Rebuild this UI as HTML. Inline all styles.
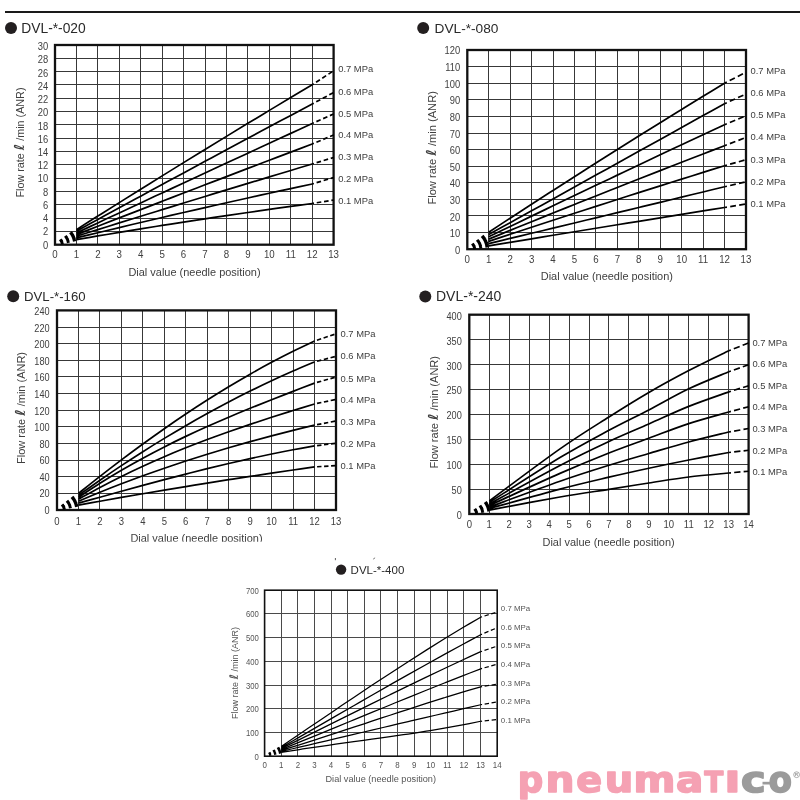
<!DOCTYPE html>
<html lang="en"><head><meta charset="utf-8"><title>DVL flow characteristics</title>
<style>html,body{margin:0;padding:0;background:#fff}body{width:800px;height:800px;overflow:hidden}svg{display:block;font-family:"Liberation Sans", "DejaVu Sans", sans-serif}</style>
</head><body>
<svg width="800" height="800" viewBox="0 0 800 800">
<rect width="800" height="800" fill="#fff"/>
<rect x="5" y="11" width="795" height="2" fill="#1a1a1a"/>
<g>
<path d="M76.50 45.00V244.70M97.50 45.00V244.70M119.50 45.00V244.70M140.50 45.00V244.70M162.50 45.00V244.70M183.50 45.00V244.70M205.50 45.00V244.70M226.50 45.00V244.70M247.50 45.00V244.70M269.50 45.00V244.70M290.50 45.00V244.70M312.50 45.00V244.70M55.00 58.50H333.60M55.00 71.50H333.60M55.00 84.50H333.60M55.00 98.50H333.60M55.00 111.50H333.60M55.00 124.50H333.60M55.00 138.50H333.60M55.00 151.50H333.60M55.00 164.50H333.60M55.00 178.50H333.60M55.00 191.50H333.60M55.00 204.50H333.60M55.00 218.50H333.60M55.00 231.50H333.60" stroke="#383838" stroke-width="1.0" fill="none"/>
<rect x="55.00" y="45.00" width="278.60" height="199.70" fill="none" stroke="#111" stroke-width="2.3"/>
<circle cx="11.00" cy="28.00" r="6.00" fill="#231f20"/>
<text x="21.30" y="32.80" font-size="13.80" fill="#2a2a2a">DVL-*-020</text>
<g font-size="10.40" fill="#404040" text-anchor="end">
<text transform="translate(48.20 50.24) scale(0.900 1)">30</text>
<text transform="translate(48.20 63.46) scale(0.900 1)">28</text>
<text transform="translate(48.20 76.68) scale(0.900 1)">26</text>
<text transform="translate(48.20 89.90) scale(0.900 1)">24</text>
<text transform="translate(48.20 103.12) scale(0.900 1)">22</text>
<text transform="translate(48.20 116.34) scale(0.900 1)">20</text>
<text transform="translate(48.20 129.56) scale(0.900 1)">18</text>
<text transform="translate(48.20 142.78) scale(0.900 1)">16</text>
<text transform="translate(48.20 156.00) scale(0.900 1)">14</text>
<text transform="translate(48.20 169.22) scale(0.900 1)">12</text>
<text transform="translate(48.20 182.44) scale(0.900 1)">10</text>
<text transform="translate(48.20 195.66) scale(0.900 1)">8</text>
<text transform="translate(48.20 208.88) scale(0.900 1)">6</text>
<text transform="translate(48.20 222.10) scale(0.900 1)">4</text>
<text transform="translate(48.20 235.32) scale(0.900 1)">2</text>
<text transform="translate(48.20 248.54) scale(0.900 1)">0</text>
</g>
<g font-size="10.80" fill="#404040" text-anchor="middle">
<text transform="translate(55.00 257.90) scale(0.900 1)">0</text>
<text transform="translate(76.43 257.90) scale(0.900 1)">1</text>
<text transform="translate(97.86 257.90) scale(0.900 1)">2</text>
<text transform="translate(119.29 257.90) scale(0.900 1)">3</text>
<text transform="translate(140.72 257.90) scale(0.900 1)">4</text>
<text transform="translate(162.15 257.90) scale(0.900 1)">5</text>
<text transform="translate(183.58 257.90) scale(0.900 1)">6</text>
<text transform="translate(205.02 257.90) scale(0.900 1)">7</text>
<text transform="translate(226.45 257.90) scale(0.900 1)">8</text>
<text transform="translate(247.88 257.90) scale(0.900 1)">9</text>
<text transform="translate(269.31 257.90) scale(0.900 1)">10</text>
<text transform="translate(290.74 257.90) scale(0.900 1)">11</text>
<text transform="translate(312.17 257.90) scale(0.900 1)">12</text>
<text transform="translate(333.60 257.90) scale(0.900 1)">13</text>
</g>
<text x="128.40" y="276.00" font-size="11.00" fill="#404040" textLength="132.20" lengthAdjust="spacingAndGlyphs">Dial value (needle position)</text>
<text transform="translate(23.50 197.50) rotate(-90)" font-size="11.00" fill="#404040" textLength="110.00" lengthAdjust="spacingAndGlyphs">Flow rate <tspan font-family="'DejaVu Sans', sans-serif" font-weight="bold" font-style="italic" font-size="13.75">ℓ</tspan> /min (ANR)</text>
<g font-size="9.40" fill="#404040">
<text x="338.20" y="72.38">0.7 MPa</text>
<text x="338.20" y="94.58">0.6 MPa</text>
<text x="338.20" y="117.08">0.5 MPa</text>
<text x="338.20" y="138.08">0.4 MPa</text>
<text x="338.20" y="160.38">0.3 MPa</text>
<text x="338.20" y="181.88">0.2 MPa</text>
<text x="338.20" y="204.38">0.1 MPa</text>
</g>
<path d="M76.40 229.61 C79.97 227.35 90.69 220.57 97.84 216.06 C104.98 211.56 112.13 207.07 119.27 202.60 C126.42 198.12 133.56 193.65 140.71 189.20 C147.85 184.75 155.00 180.31 162.15 175.88 C169.29 171.45 176.44 167.04 183.58 162.63 C190.73 158.23 197.87 153.84 205.02 149.46 C212.16 145.08 219.31 140.72 226.45 136.36 C233.60 132.01 240.75 127.66 247.89 123.33 C255.04 119.00 262.18 114.69 269.33 110.38 C276.47 106.08 283.62 101.78 290.76 97.50 C297.91 93.22 308.63 86.83 312.20 84.70 M76.40 231.27 C79.97 229.31 90.69 223.43 97.84 219.52 C104.98 215.61 112.13 211.71 119.27 207.81 C126.42 203.91 133.56 200.02 140.71 196.14 C147.85 192.25 155.00 188.37 162.15 184.50 C169.29 180.62 176.44 176.75 183.58 172.89 C190.73 169.03 197.87 165.17 205.02 161.32 C212.16 157.47 219.31 153.63 226.45 149.79 C233.60 145.95 240.75 142.12 247.89 138.29 C255.04 134.46 262.18 130.64 269.33 126.82 C276.47 123.01 283.62 119.20 290.76 115.39 C297.91 111.59 308.63 105.90 312.20 104.00 M76.40 232.94 C79.97 231.27 90.69 226.25 97.84 222.91 C104.98 219.57 112.13 216.23 119.27 212.90 C126.42 209.56 133.56 206.23 140.71 202.90 C147.85 199.57 155.00 196.24 162.15 192.92 C169.29 189.60 176.44 186.27 183.58 182.96 C190.73 179.64 197.87 176.32 205.02 173.01 C212.16 169.69 219.31 166.38 226.45 163.07 C233.60 159.76 240.75 156.46 247.89 153.16 C255.04 149.85 262.18 146.55 269.33 143.25 C276.47 139.96 283.62 136.66 290.76 133.37 C297.91 130.08 308.63 125.14 312.20 123.50 M76.40 234.61 C79.97 233.22 90.69 229.03 97.84 226.25 C104.98 223.46 112.13 220.69 119.27 217.91 C126.42 215.14 133.56 212.36 140.71 209.60 C147.85 206.83 155.00 204.07 162.15 201.31 C169.29 198.55 176.44 195.80 183.58 193.05 C190.73 190.30 197.87 187.55 205.02 184.81 C212.16 182.07 219.31 179.33 226.45 176.60 C233.60 173.86 240.75 171.13 247.89 168.41 C255.04 165.68 262.18 162.96 269.33 160.25 C276.47 157.53 283.62 154.82 290.76 152.11 C297.91 149.40 308.63 145.35 312.20 144.00 M76.40 236.28 C79.97 235.16 90.69 231.81 97.84 229.58 C104.98 227.35 112.13 225.12 119.27 222.90 C126.42 220.68 133.56 218.46 140.71 216.25 C147.85 214.04 155.00 211.83 162.15 209.63 C169.29 207.43 176.44 205.23 183.58 203.03 C190.73 200.84 197.87 198.65 205.02 196.46 C212.16 194.27 219.31 192.09 226.45 189.92 C233.60 187.74 240.75 185.57 247.89 183.40 C255.04 181.23 262.18 179.06 269.33 176.90 C276.47 174.74 283.62 172.59 290.76 170.44 C297.91 168.29 308.63 165.07 312.20 164.00 M76.40 237.94 C79.97 237.07 90.69 234.46 97.84 232.73 C104.98 231.00 112.13 229.29 119.27 227.58 C126.42 225.87 133.56 224.18 140.71 222.49 C147.85 220.80 155.00 219.13 162.15 217.46 C169.29 215.80 176.44 214.14 183.58 212.50 C190.73 210.85 197.87 209.22 205.02 207.59 C212.16 205.97 219.31 204.36 226.45 202.75 C233.60 201.15 240.75 199.55 247.89 197.97 C255.04 196.39 262.18 194.81 269.33 193.25 C276.47 191.69 283.62 190.14 290.76 188.59 C297.91 187.05 308.63 184.76 312.20 184.00 M76.40 239.61 C79.97 239.00 90.69 237.17 97.84 235.96 C104.98 234.76 112.13 233.57 119.27 232.39 C126.42 231.21 133.56 230.05 140.71 228.89 C147.85 227.74 155.00 226.59 162.15 225.46 C169.29 224.33 176.44 223.22 183.58 222.11 C190.73 221.00 197.87 219.91 205.02 218.83 C212.16 217.74 219.31 216.67 226.45 215.62 C233.60 214.56 240.75 213.51 247.89 212.48 C255.04 211.44 262.18 210.42 269.33 209.41 C276.47 208.40 283.62 207.40 290.76 206.42 C297.91 205.43 308.63 203.98 312.20 203.50 " stroke="#000" stroke-width="1.7" fill="none"/>
<path d="M312.20 84.70 L333.60 70.80 M312.20 104.00 L333.60 92.50 M312.20 123.50 L333.60 114.00 M312.20 144.00 L333.60 135.00 M312.20 164.00 L333.60 157.50 M312.20 184.00 L333.60 177.50 M312.20 203.50 L333.60 200.00 " stroke="#000" stroke-width="1.7" fill="none" stroke-dasharray="4.6 2.8" stroke-dashoffset="2.8"/>
<path d="M55.00 244.70 L76.40 229.61 M55.00 244.70 L76.40 231.27 M55.00 244.70 L76.40 232.94 M55.00 244.70 L76.40 234.61 M55.00 244.70 L76.40 236.28 M55.00 244.70 L76.40 237.94 M55.00 244.70 L76.40 239.61 " stroke="#000" stroke-width="2.55" fill="none" stroke-dasharray="0.00 5.80 3.00 3.20 3.00 3.20 3.40 100.00"/>
</g>
<g>
<path d="M488.50 50.00V249.20M510.50 50.00V249.20M531.50 50.00V249.20M553.50 50.00V249.20M574.50 50.00V249.20M595.50 50.00V249.20M617.50 50.00V249.20M638.50 50.00V249.20M660.50 50.00V249.20M681.50 50.00V249.20M703.50 50.00V249.20M724.50 50.00V249.20M467.30 66.50H746.00M467.30 83.50H746.00M467.30 99.50H746.00M467.30 116.50H746.00M467.30 133.50H746.00M467.30 149.50H746.00M467.30 166.50H746.00M467.30 182.50H746.00M467.30 199.50H746.00M467.30 215.50H746.00M467.30 232.50H746.00" stroke="#383838" stroke-width="1.0" fill="none"/>
<rect x="467.30" y="50.00" width="278.70" height="199.20" fill="none" stroke="#111" stroke-width="2.3"/>
<circle cx="423.20" cy="28.00" r="6.00" fill="#231f20"/>
<text x="434.50" y="32.80" font-size="13.70" fill="#2a2a2a">DVL-*-080</text>
<g font-size="10.40" fill="#404040" text-anchor="end">
<text transform="translate(460.20 54.44) scale(0.900 1)">120</text>
<text transform="translate(460.20 71.07) scale(0.900 1)">110</text>
<text transform="translate(460.20 87.69) scale(0.900 1)">100</text>
<text transform="translate(460.20 104.32) scale(0.900 1)">90</text>
<text transform="translate(460.20 120.94) scale(0.900 1)">80</text>
<text transform="translate(460.20 137.57) scale(0.900 1)">70</text>
<text transform="translate(460.20 154.19) scale(0.900 1)">60</text>
<text transform="translate(460.20 170.82) scale(0.900 1)">50</text>
<text transform="translate(460.20 187.44) scale(0.900 1)">40</text>
<text transform="translate(460.20 204.07) scale(0.900 1)">30</text>
<text transform="translate(460.20 220.69) scale(0.900 1)">20</text>
<text transform="translate(460.20 237.32) scale(0.900 1)">10</text>
<text transform="translate(460.20 253.94) scale(0.900 1)">0</text>
</g>
<g font-size="10.80" fill="#404040" text-anchor="middle">
<text transform="translate(467.30 262.80) scale(0.900 1)">0</text>
<text transform="translate(488.74 262.80) scale(0.900 1)">1</text>
<text transform="translate(510.18 262.80) scale(0.900 1)">2</text>
<text transform="translate(531.62 262.80) scale(0.900 1)">3</text>
<text transform="translate(553.05 262.80) scale(0.900 1)">4</text>
<text transform="translate(574.49 262.80) scale(0.900 1)">5</text>
<text transform="translate(595.93 262.80) scale(0.900 1)">6</text>
<text transform="translate(617.37 262.80) scale(0.900 1)">7</text>
<text transform="translate(638.81 262.80) scale(0.900 1)">8</text>
<text transform="translate(660.25 262.80) scale(0.900 1)">9</text>
<text transform="translate(681.68 262.80) scale(0.900 1)">10</text>
<text transform="translate(703.12 262.80) scale(0.900 1)">11</text>
<text transform="translate(724.56 262.80) scale(0.900 1)">12</text>
<text transform="translate(746.00 262.80) scale(0.900 1)">13</text>
</g>
<text x="540.75" y="280.00" font-size="11.00" fill="#404040" textLength="132.20" lengthAdjust="spacingAndGlyphs">Dial value (needle position)</text>
<text transform="translate(435.70 204.60) rotate(-90)" font-size="11.00" fill="#404040" textLength="113.50" lengthAdjust="spacingAndGlyphs">Flow rate <tspan font-family="'DejaVu Sans', sans-serif" font-weight="bold" font-style="italic" font-size="13.75">ℓ</tspan> /min (ANR)</text>
<g font-size="9.40" fill="#404040">
<text x="750.50" y="74.18">0.7 MPa</text>
<text x="750.50" y="95.88">0.6 MPa</text>
<text x="750.50" y="117.88">0.5 MPa</text>
<text x="750.50" y="139.78">0.4 MPa</text>
<text x="750.50" y="162.88">0.3 MPa</text>
<text x="750.50" y="184.88">0.2 MPa</text>
<text x="750.50" y="206.68">0.1 MPa</text>
</g>
<path d="M488.70 232.25 C492.27 229.91 502.99 222.88 510.14 218.21 C517.28 213.55 524.43 208.91 531.57 204.28 C538.72 199.65 545.86 195.04 553.01 190.44 C560.15 185.84 567.30 181.26 574.45 176.70 C581.59 172.13 588.74 167.58 595.88 163.05 C603.03 158.52 610.17 154.00 617.32 149.50 C624.46 145.00 631.61 140.52 638.75 136.05 C645.90 131.58 653.05 127.13 660.19 122.69 C667.34 118.26 674.48 113.84 681.63 109.43 C688.77 105.03 695.92 100.64 703.06 96.27 C710.21 91.90 720.93 85.38 724.50 83.20 M488.70 234.55 C492.27 232.57 502.99 226.63 510.14 222.67 C517.28 218.70 524.43 214.74 531.57 210.78 C538.72 206.82 545.86 202.85 553.01 198.89 C560.15 194.93 567.30 190.97 574.45 187.00 C581.59 183.04 588.74 179.07 595.88 175.11 C603.03 171.14 610.17 167.18 617.32 163.21 C624.46 159.25 631.61 155.28 638.75 151.32 C645.90 147.35 653.05 143.38 660.19 139.42 C667.34 135.45 674.48 131.48 681.63 127.52 C688.77 123.55 695.92 119.58 703.06 115.61 C710.21 111.64 720.93 105.69 724.50 103.71 M488.70 236.84 C492.27 235.12 502.99 229.92 510.14 226.47 C517.28 223.02 524.43 219.58 531.57 216.14 C538.72 212.70 545.86 209.26 553.01 205.83 C560.15 202.41 567.30 198.98 574.45 195.57 C581.59 192.15 588.74 188.74 595.88 185.33 C603.03 181.93 610.17 178.53 617.32 175.14 C624.46 171.74 631.61 168.35 638.75 164.97 C645.90 161.59 653.05 158.21 660.19 154.84 C667.34 151.47 674.48 148.11 681.63 144.75 C688.77 141.39 695.92 138.04 703.06 134.69 C710.21 131.34 720.93 126.34 724.50 124.67 M488.70 239.11 C492.27 237.65 502.99 233.28 510.14 230.38 C517.28 227.48 524.43 224.58 531.57 221.70 C538.72 218.81 545.86 215.93 553.01 213.06 C560.15 210.19 567.30 207.33 574.45 204.48 C581.59 201.62 588.74 198.78 595.88 195.94 C603.03 193.10 610.17 190.27 617.32 187.45 C624.46 184.62 631.61 181.81 638.75 179.00 C645.90 176.19 653.05 173.39 660.19 170.60 C667.34 167.81 674.48 165.03 681.63 162.25 C688.77 159.48 695.92 156.71 703.06 153.95 C710.21 151.19 720.93 147.07 724.50 145.69 M488.70 241.36 C492.27 240.18 502.99 236.64 510.14 234.29 C517.28 231.93 524.43 229.59 531.57 227.25 C538.72 224.91 545.86 222.58 553.01 220.25 C560.15 217.92 567.30 215.61 574.45 213.29 C581.59 210.98 588.74 208.68 595.88 206.38 C603.03 204.08 610.17 201.79 617.32 199.50 C624.46 197.22 631.61 194.94 638.75 192.67 C645.90 190.39 653.05 188.13 660.19 185.87 C667.34 183.61 674.48 181.36 681.63 179.11 C688.77 176.87 695.92 174.63 703.06 172.40 C710.21 170.17 720.93 166.84 724.50 165.73 M488.70 243.61 C492.27 242.75 502.99 240.17 510.14 238.45 C517.28 236.73 524.43 235.01 531.57 233.29 C538.72 231.57 545.86 229.85 553.01 228.13 C560.15 226.41 567.30 224.69 574.45 222.97 C581.59 221.25 588.74 219.53 595.88 217.80 C603.03 216.08 610.17 214.36 617.32 212.64 C624.46 210.92 631.61 209.19 638.75 207.47 C645.90 205.75 653.05 204.02 660.19 202.30 C667.34 200.58 674.48 198.85 681.63 197.13 C688.77 195.41 695.92 193.68 703.06 191.96 C710.21 190.23 720.93 187.64 724.50 186.78 M488.70 245.89 C492.27 245.30 502.99 243.52 510.14 242.34 C517.28 241.16 524.43 239.98 531.57 238.80 C538.72 237.62 545.86 236.44 553.01 235.27 C560.15 234.09 567.30 232.92 574.45 231.75 C581.59 230.58 588.74 229.42 595.88 228.25 C603.03 227.09 610.17 225.92 617.32 224.76 C624.46 223.60 631.61 222.44 638.75 221.29 C645.90 220.13 653.05 218.97 660.19 217.82 C667.34 216.67 674.48 215.52 681.63 214.37 C688.77 213.22 695.92 212.08 703.06 210.93 C710.21 209.79 720.93 208.08 724.50 207.51 " stroke="#000" stroke-width="1.7" fill="none"/>
<path d="M724.50 83.20 L746.00 72.25 M724.50 103.71 L746.00 94.00 M724.50 124.67 L746.00 115.75 M724.50 145.69 L746.00 137.50 M724.50 165.73 L746.00 159.75 M724.50 186.78 L746.00 181.80 M724.50 207.51 L746.00 204.00 " stroke="#000" stroke-width="1.7" fill="none" stroke-dasharray="5.8 3.3" stroke-dashoffset="3.3"/>
<path d="M467.30 249.20 L488.70 232.25 M467.30 249.20 L488.70 234.55 M467.30 249.20 L488.70 236.84 M467.30 249.20 L488.70 239.11 M467.30 249.20 L488.70 241.36 M467.30 249.20 L488.70 243.61 M467.30 249.20 L488.70 245.89 " stroke="#000" stroke-width="2.55" fill="none" stroke-dasharray="0.00 5.80 3.00 3.20 3.00 3.20 3.40 100.00"/>
</g>
<g>
<path d="M78.50 310.40V510.00M99.50 310.40V510.00M121.50 310.40V510.00M142.50 310.40V510.00M164.50 310.40V510.00M185.50 310.40V510.00M207.50 310.40V510.00M228.50 310.40V510.00M250.50 310.40V510.00M271.50 310.40V510.00M293.50 310.40V510.00M314.50 310.40V510.00M57.00 327.50H336.00M57.00 343.50H336.00M57.00 360.50H336.00M57.00 376.50H336.00M57.00 393.50H336.00M57.00 410.50H336.00M57.00 426.50H336.00M57.00 443.50H336.00M57.00 460.50H336.00M57.00 476.50H336.00M57.00 493.50H336.00" stroke="#383838" stroke-width="1.0" fill="none"/>
<rect x="57.00" y="310.40" width="279.00" height="199.60" fill="none" stroke="#111" stroke-width="2.3"/>
<circle cx="13.20" cy="296.30" r="6.00" fill="#231f20"/>
<text x="24.00" y="300.70" font-size="13.20" fill="#2a2a2a">DVL-*-160</text>
<g font-size="10.20" fill="#404040" text-anchor="end">
<text transform="translate(49.60 315.07) scale(0.900 1)">240</text>
<text transform="translate(49.60 331.65) scale(0.900 1)">220</text>
<text transform="translate(49.60 348.22) scale(0.900 1)">200</text>
<text transform="translate(49.60 364.80) scale(0.900 1)">180</text>
<text transform="translate(49.60 381.37) scale(0.900 1)">160</text>
<text transform="translate(49.60 397.95) scale(0.900 1)">140</text>
<text transform="translate(49.60 414.52) scale(0.900 1)">120</text>
<text transform="translate(49.60 431.10) scale(0.900 1)">100</text>
<text transform="translate(49.60 447.67) scale(0.900 1)">80</text>
<text transform="translate(49.60 464.25) scale(0.900 1)">60</text>
<text transform="translate(49.60 480.82) scale(0.900 1)">40</text>
<text transform="translate(49.60 497.40) scale(0.900 1)">20</text>
<text transform="translate(49.60 513.97) scale(0.900 1)">0</text>
</g>
<g font-size="10.60" fill="#404040" text-anchor="middle">
<text transform="translate(57.00 524.50) scale(0.900 1)">0</text>
<text transform="translate(78.46 524.50) scale(0.900 1)">1</text>
<text transform="translate(99.92 524.50) scale(0.900 1)">2</text>
<text transform="translate(121.38 524.50) scale(0.900 1)">3</text>
<text transform="translate(142.85 524.50) scale(0.900 1)">4</text>
<text transform="translate(164.31 524.50) scale(0.900 1)">5</text>
<text transform="translate(185.77 524.50) scale(0.900 1)">6</text>
<text transform="translate(207.23 524.50) scale(0.900 1)">7</text>
<text transform="translate(228.69 524.50) scale(0.900 1)">8</text>
<text transform="translate(250.15 524.50) scale(0.900 1)">9</text>
<text transform="translate(271.62 524.50) scale(0.900 1)">10</text>
<text transform="translate(293.08 524.50) scale(0.900 1)">11</text>
<text transform="translate(314.54 524.50) scale(0.900 1)">12</text>
<text transform="translate(336.00 524.50) scale(0.900 1)">13</text>
</g>
<clipPath id="xc"><rect x="0" y="0" width="800" height="541.70"/></clipPath>
<text x="130.40" y="541.50" font-size="11.00" fill="#404040" textLength="132.20" lengthAdjust="spacingAndGlyphs" clip-path="url(#xc)">Dial value (needle position)</text>
<text transform="translate(25.30 464.00) rotate(-90)" font-size="11.00" fill="#404040" textLength="112.00" lengthAdjust="spacingAndGlyphs">Flow rate <tspan font-family="'DejaVu Sans', sans-serif" font-weight="bold" font-style="italic" font-size="13.75">ℓ</tspan> /min (ANR)</text>
<g font-size="9.40" fill="#404040">
<text x="340.50" y="337.38">0.7 MPa</text>
<text x="340.50" y="359.28">0.6 MPa</text>
<text x="340.50" y="381.63">0.5 MPa</text>
<text x="340.50" y="403.48">0.4 MPa</text>
<text x="340.50" y="424.68">0.3 MPa</text>
<text x="340.50" y="446.68">0.2 MPa</text>
<text x="340.50" y="469.28">0.1 MPa</text>
</g>
<path d="M78.50 493.42 C82.08 490.58 92.80 481.97 99.95 476.38 C107.11 470.79 114.26 465.29 121.41 459.89 C128.56 454.49 135.71 449.19 142.86 443.99 C150.02 438.79 157.17 433.68 164.32 428.69 C171.47 423.70 178.62 418.81 185.77 414.03 C192.92 409.26 200.08 404.59 207.23 400.04 C214.38 395.49 221.53 391.05 228.68 386.74 C235.83 382.42 242.98 378.23 250.14 374.16 C257.29 370.09 264.44 366.14 271.59 362.33 C278.74 358.51 285.89 354.82 293.05 351.27 C300.20 347.72 310.92 342.73 314.50 341.02 M78.50 495.37 C82.08 492.84 92.80 485.16 99.95 480.21 C107.11 475.26 114.26 470.41 121.41 465.66 C128.56 460.91 135.71 456.27 142.86 451.72 C150.02 447.17 157.17 442.73 164.32 438.39 C171.47 434.04 178.62 429.80 185.77 425.65 C192.92 421.51 200.08 417.47 207.23 413.53 C214.38 409.59 221.53 405.75 228.68 402.01 C235.83 398.26 242.98 394.62 250.14 391.08 C257.29 387.54 264.44 384.10 271.59 380.76 C278.74 377.42 285.89 374.18 293.05 371.04 C300.20 367.90 310.92 363.44 314.50 361.92 M78.50 497.32 C82.08 494.98 92.80 487.77 99.95 483.25 C107.11 478.74 114.26 474.41 121.41 470.23 C128.56 466.04 135.71 462.03 142.86 458.14 C150.02 454.25 157.17 450.52 164.32 446.89 C171.47 443.27 178.62 439.78 185.77 436.38 C192.92 432.99 200.08 429.71 207.23 426.51 C214.38 423.31 221.53 420.21 228.68 417.17 C235.83 414.13 242.98 411.18 250.14 408.27 C257.29 405.35 264.44 402.51 271.59 399.69 C278.74 396.87 285.89 394.11 293.05 391.35 C300.20 388.59 310.92 384.50 314.50 383.14 M78.50 499.25 C82.08 497.28 92.80 491.20 99.95 487.39 C107.11 483.58 114.26 479.93 121.41 476.39 C128.56 472.86 135.71 469.47 142.86 466.18 C150.02 462.90 157.17 459.74 164.32 456.68 C171.47 453.62 178.62 450.68 185.77 447.82 C192.92 444.96 200.08 442.21 207.23 439.53 C214.38 436.85 221.53 434.26 228.68 431.73 C235.83 429.20 242.98 426.75 250.14 424.35 C257.29 421.95 264.44 419.61 271.59 417.31 C278.74 415.01 285.89 412.77 293.05 410.55 C300.20 408.33 310.92 405.08 314.50 403.99 M78.50 501.20 C82.08 499.71 92.80 495.18 99.95 492.28 C107.11 489.38 114.26 486.57 121.41 483.82 C128.56 481.08 135.71 478.41 142.86 475.81 C150.02 473.20 157.17 470.68 164.32 468.21 C171.47 465.75 178.62 463.35 185.77 461.02 C192.92 458.68 200.08 456.41 207.23 454.20 C214.38 451.99 221.53 449.85 228.68 447.75 C235.83 445.66 242.98 443.63 250.14 441.65 C257.29 439.66 264.44 437.74 271.59 435.86 C278.74 433.99 285.89 432.16 293.05 430.38 C300.20 428.60 310.92 426.05 314.50 425.19 M78.50 503.16 C82.08 502.17 92.80 499.20 99.95 497.22 C107.11 495.24 114.26 493.26 121.41 491.30 C128.56 489.34 135.71 487.38 142.86 485.44 C150.02 483.51 157.17 481.58 164.32 479.69 C171.47 477.80 178.62 475.92 185.77 474.08 C192.92 472.25 200.08 470.44 207.23 468.67 C214.38 466.90 221.53 465.17 228.68 463.49 C235.83 461.80 242.98 460.16 250.14 458.58 C257.29 457.00 264.44 455.46 271.59 453.99 C278.74 452.52 285.89 451.10 293.05 449.76 C300.20 448.42 310.92 446.57 314.50 445.93 M78.50 505.10 C82.08 504.46 92.80 502.52 99.95 501.24 C107.11 499.97 114.26 498.71 121.41 497.46 C128.56 496.21 135.71 494.97 142.86 493.75 C150.02 492.53 157.17 491.32 164.32 490.12 C171.47 488.93 178.62 487.74 185.77 486.57 C192.92 485.40 200.08 484.25 207.23 483.10 C214.38 481.96 221.53 480.83 228.68 479.71 C235.83 478.59 242.98 477.48 250.14 476.39 C257.29 475.30 264.44 474.22 271.59 473.15 C278.74 472.09 285.89 471.03 293.05 469.99 C300.20 468.95 310.92 467.42 314.50 466.91 " stroke="#000" stroke-width="1.7" fill="none"/>
<path d="M314.50 341.02 L336.00 333.80 M314.50 361.92 L336.00 356.40 M314.50 383.14 L336.00 377.00 M314.50 403.99 L336.00 399.40 M314.50 425.19 L336.00 421.00 M314.50 445.93 L336.00 443.25 M314.50 466.91 L336.00 465.65 " stroke="#000" stroke-width="1.7" fill="none" stroke-dasharray="4.4 2.6" stroke-dashoffset="4.4"/>
<path d="M57.00 510.00 L78.50 493.42 M57.00 510.00 L78.50 495.37 M57.00 510.00 L78.50 497.32 M57.00 510.00 L78.50 499.25 M57.00 510.00 L78.50 501.20 M57.00 510.00 L78.50 503.16 M57.00 510.00 L78.50 505.10 " stroke="#000" stroke-width="2.55" fill="none" stroke-dasharray="0.00 5.80 3.00 3.20 3.00 3.20 3.40 100.00"/>
</g>
<g>
<path d="M489.50 314.70V514.00M509.50 314.70V514.00M529.50 314.70V514.00M549.50 314.70V514.00M569.50 314.70V514.00M589.50 314.70V514.00M608.50 314.70V514.00M628.50 314.70V514.00M648.50 314.70V514.00M668.50 314.70V514.00M688.50 314.70V514.00M708.50 314.70V514.00M728.50 314.70V514.00M469.30 339.50H748.60M469.30 364.50H748.60M469.30 389.50H748.60M469.30 414.50H748.60M469.30 439.50H748.60M469.30 464.50H748.60M469.30 489.50H748.60" stroke="#383838" stroke-width="1.0" fill="none"/>
<rect x="469.30" y="314.70" width="279.30" height="199.30" fill="none" stroke="#111" stroke-width="2.3"/>
<circle cx="425.30" cy="296.60" r="6.00" fill="#231f20"/>
<text x="436.00" y="301.20" font-size="14.00" fill="#2a2a2a">DVL-*-240</text>
<g font-size="10.20" fill="#404040" text-anchor="end">
<text transform="translate(461.80 319.57) scale(0.900 1)">400</text>
<text transform="translate(461.80 344.53) scale(0.900 1)">350</text>
<text transform="translate(461.80 369.50) scale(0.900 1)">300</text>
<text transform="translate(461.80 394.46) scale(0.900 1)">250</text>
<text transform="translate(461.80 419.42) scale(0.900 1)">200</text>
<text transform="translate(461.80 444.38) scale(0.900 1)">150</text>
<text transform="translate(461.80 469.35) scale(0.900 1)">100</text>
<text transform="translate(461.80 494.31) scale(0.900 1)">50</text>
<text transform="translate(461.80 519.27) scale(0.900 1)">0</text>
</g>
<g font-size="10.60" fill="#404040" text-anchor="middle">
<text transform="translate(469.30 528.00) scale(0.900 1)">0</text>
<text transform="translate(489.25 528.00) scale(0.900 1)">1</text>
<text transform="translate(509.20 528.00) scale(0.900 1)">2</text>
<text transform="translate(529.15 528.00) scale(0.900 1)">3</text>
<text transform="translate(549.10 528.00) scale(0.900 1)">4</text>
<text transform="translate(569.05 528.00) scale(0.900 1)">5</text>
<text transform="translate(589.00 528.00) scale(0.900 1)">6</text>
<text transform="translate(608.95 528.00) scale(0.900 1)">7</text>
<text transform="translate(628.90 528.00) scale(0.900 1)">8</text>
<text transform="translate(648.85 528.00) scale(0.900 1)">9</text>
<text transform="translate(668.80 528.00) scale(0.900 1)">10</text>
<text transform="translate(688.75 528.00) scale(0.900 1)">11</text>
<text transform="translate(708.70 528.00) scale(0.900 1)">12</text>
<text transform="translate(728.65 528.00) scale(0.900 1)">13</text>
<text transform="translate(748.60 528.00) scale(0.900 1)">14</text>
</g>
<text x="542.50" y="545.50" font-size="11.00" fill="#404040" textLength="132.20" lengthAdjust="spacingAndGlyphs">Dial value (needle position)</text>
<text transform="translate(438.30 468.50) rotate(-90)" font-size="11.00" fill="#404040" textLength="112.50" lengthAdjust="spacingAndGlyphs">Flow rate <tspan font-family="'DejaVu Sans', sans-serif" font-weight="bold" font-style="italic" font-size="13.75">ℓ</tspan> /min (ANR)</text>
<g font-size="9.40" fill="#404040">
<text x="752.40" y="346.28">0.7 MPa</text>
<text x="752.40" y="367.28">0.6 MPa</text>
<text x="752.40" y="389.13">0.5 MPa</text>
<text x="752.40" y="410.48">0.4 MPa</text>
<text x="752.40" y="432.38">0.3 MPa</text>
<text x="752.40" y="453.63">0.2 MPa</text>
<text x="752.40" y="474.98">0.1 MPa</text>
</g>
<path d="M489.30 500.90 C501.08 492.23 540.06 462.88 560.00 448.90 C579.94 434.92 594.14 426.40 608.95 417.00 C623.76 407.60 635.55 400.23 648.85 392.50 C662.15 384.77 675.42 377.56 688.75 370.60 C702.08 363.64 722.12 354.06 728.80 350.75 M489.30 502.43 C501.08 494.96 540.06 469.62 560.00 457.60 C579.94 445.58 594.14 438.25 608.95 430.30 C623.76 422.35 635.55 416.82 648.85 409.90 C662.15 402.98 675.42 395.16 688.75 388.80 C702.08 382.44 722.12 374.59 728.80 371.75 M489.30 503.97 C501.08 497.56 540.06 475.91 560.00 465.50 C579.94 455.09 594.14 448.42 608.95 441.50 C623.76 434.58 635.55 429.85 648.85 424.00 C662.15 418.15 675.42 411.75 688.75 406.40 C702.08 401.05 722.12 394.32 728.80 391.90 M489.30 505.50 C501.08 500.15 540.06 482.15 560.00 473.40 C579.94 464.65 594.14 458.87 608.95 453.00 C623.76 447.13 635.55 443.10 648.85 438.20 C662.15 433.30 675.42 427.97 688.75 423.60 C702.08 419.23 722.12 413.93 728.80 412.00 M489.30 507.03 C501.08 502.74 540.06 488.21 560.00 481.25 C579.94 474.29 594.14 469.93 608.95 465.30 C623.76 460.68 635.55 457.38 648.85 453.50 C662.15 449.62 675.42 445.58 688.75 442.00 C702.08 438.42 722.12 433.67 728.80 432.00 M489.30 508.57 C501.08 505.32 540.06 494.33 560.00 489.10 C579.94 483.87 594.14 480.68 608.95 477.20 C623.76 473.72 635.55 471.12 648.85 468.25 C662.15 465.38 675.42 462.62 688.75 460.00 C702.08 457.38 722.12 453.75 728.80 452.50 M489.30 510.10 C501.08 507.92 540.06 500.47 560.00 497.00 C579.94 493.53 594.14 491.63 608.95 489.30 C623.76 486.97 635.55 485.05 648.85 483.00 C662.15 480.95 675.42 478.67 688.75 477.00 C702.08 475.33 722.12 473.67 728.80 473.00 " stroke="#000" stroke-width="1.7" fill="none"/>
<path d="M728.80 350.75 L748.60 342.90 M728.80 371.75 L748.60 364.75 M728.80 391.90 L748.60 385.75 M728.80 412.00 L748.60 406.75 M728.80 432.00 L748.60 428.50 M728.80 452.50 L748.60 450.25 M728.80 473.00 L748.60 471.25 " stroke="#000" stroke-width="1.7" fill="none" stroke-dasharray="6.3 3.2" stroke-dashoffset="4.1"/>
<path d="M469.30 514.00 L489.30 500.90 M469.30 514.00 L489.30 502.43 M469.30 514.00 L489.30 503.97 M469.30 514.00 L489.30 505.50 M469.30 514.00 L489.30 507.03 M469.30 514.00 L489.30 508.57 M469.30 514.00 L489.30 510.10 " stroke="#000" stroke-width="2.55" fill="none" stroke-dasharray="0.00 5.80 3.00 3.20 3.00 3.20 3.40 100.00"/>
</g>
<g>
<path d="M281.50 590.20V756.20M297.50 590.20V756.20M314.50 590.20V756.20M331.50 590.20V756.20M347.50 590.20V756.20M364.50 590.20V756.20M380.50 590.20V756.20M397.50 590.20V756.20M414.50 590.20V756.20M430.50 590.20V756.20M447.50 590.20V756.20M463.50 590.20V756.20M480.50 590.20V756.20M264.60 613.50H497.20M264.60 637.50H497.20M264.60 661.50H497.20M264.60 685.50H497.20M264.60 708.50H497.20M264.60 732.50H497.20" stroke="#4a4a4a" stroke-width="1.0" fill="none"/>
<rect x="264.60" y="590.20" width="232.60" height="166.00" fill="none" stroke="#111" stroke-width="1.6"/>
<circle cx="341.10" cy="569.60" r="5.20" fill="#231f20"/>
<text x="350.60" y="573.60" font-size="11.50" fill="#2a2a2a">DVL-*-400</text>
<g font-size="8.60" fill="#555" text-anchor="end">
<text transform="translate(258.90 593.50) scale(0.900 1)">700</text>
<text transform="translate(258.90 617.28) scale(0.900 1)">600</text>
<text transform="translate(258.90 641.07) scale(0.900 1)">500</text>
<text transform="translate(258.90 664.85) scale(0.900 1)">400</text>
<text transform="translate(258.90 688.64) scale(0.900 1)">300</text>
<text transform="translate(258.90 712.42) scale(0.900 1)">200</text>
<text transform="translate(258.90 736.21) scale(0.900 1)">100</text>
<text transform="translate(258.90 760.00) scale(0.900 1)">0</text>
</g>
<g font-size="8.80" fill="#555" text-anchor="middle">
<text transform="translate(264.60 768.40) scale(0.900 1)">0</text>
<text transform="translate(281.21 768.40) scale(0.900 1)">1</text>
<text transform="translate(297.83 768.40) scale(0.900 1)">2</text>
<text transform="translate(314.44 768.40) scale(0.900 1)">3</text>
<text transform="translate(331.06 768.40) scale(0.900 1)">4</text>
<text transform="translate(347.67 768.40) scale(0.900 1)">5</text>
<text transform="translate(364.29 768.40) scale(0.900 1)">6</text>
<text transform="translate(380.90 768.40) scale(0.900 1)">7</text>
<text transform="translate(397.51 768.40) scale(0.900 1)">8</text>
<text transform="translate(414.13 768.40) scale(0.900 1)">9</text>
<text transform="translate(430.74 768.40) scale(0.900 1)">10</text>
<text transform="translate(447.36 768.40) scale(0.900 1)">11</text>
<text transform="translate(463.97 768.40) scale(0.900 1)">12</text>
<text transform="translate(480.59 768.40) scale(0.900 1)">13</text>
<text transform="translate(497.20 768.40) scale(0.900 1)">14</text>
</g>
<text x="325.50" y="782.30" font-size="9.20" fill="#555" textLength="110.50" lengthAdjust="spacingAndGlyphs">Dial value (needle position)</text>
<text transform="translate(238.30 719.00) rotate(-90)" font-size="9.20" fill="#555" textLength="92.00" lengthAdjust="spacingAndGlyphs">Flow rate <tspan font-family="'DejaVu Sans', sans-serif" font-weight="bold" font-style="italic" font-size="11.50">ℓ</tspan> /min (ANR)</text>
<g font-size="7.90" fill="#555">
<text x="500.85" y="610.99">0.7 MPa</text>
<text x="500.85" y="629.74">0.6 MPa</text>
<text x="500.85" y="648.44">0.5 MPa</text>
<text x="500.85" y="666.99">0.4 MPa</text>
<text x="500.85" y="685.74">0.3 MPa</text>
<text x="500.85" y="704.24">0.2 MPa</text>
<text x="500.85" y="722.84">0.1 MPa</text>
</g>
<path d="M281.20 746.60 C284.22 744.54 293.29 738.37 299.34 734.26 C305.38 730.15 311.43 726.04 317.47 721.93 C323.52 717.83 329.56 713.73 335.61 709.65 C341.65 705.57 347.70 701.49 353.75 697.44 C359.79 693.39 365.84 689.36 371.88 685.35 C377.93 681.34 383.97 677.36 390.02 673.41 C396.06 669.46 402.11 665.53 408.15 661.65 C414.20 657.77 420.25 653.91 426.29 650.11 C432.34 646.31 438.38 642.54 444.43 638.83 C450.47 635.12 456.52 631.45 462.56 627.84 C468.61 624.23 477.68 618.96 480.70 617.18 M281.20 747.56 C284.22 745.82 293.29 740.60 299.34 737.11 C305.38 733.62 311.43 730.12 317.47 726.63 C323.52 723.14 329.56 719.64 335.61 716.15 C341.65 712.66 347.70 709.17 353.75 705.68 C359.79 702.20 365.84 698.72 371.88 695.26 C377.93 691.79 383.97 688.33 390.02 684.89 C396.06 681.45 402.11 678.02 408.15 674.61 C414.20 671.19 420.25 667.80 426.29 664.42 C432.34 661.05 438.38 657.69 444.43 654.37 C450.47 651.04 456.52 647.73 462.56 644.45 C468.61 641.18 477.68 636.33 480.70 634.71 M281.20 748.53 C284.22 747.04 293.29 742.59 299.34 739.60 C305.38 736.62 311.43 733.63 317.47 730.63 C323.52 727.63 329.56 724.63 335.61 721.63 C341.65 718.63 347.70 715.62 353.75 712.62 C359.79 709.63 365.84 706.63 371.88 703.64 C377.93 700.66 383.97 697.67 390.02 694.71 C396.06 691.74 402.11 688.79 408.15 685.85 C414.20 682.91 420.25 679.99 426.29 677.09 C432.34 674.19 438.38 671.31 444.43 668.46 C450.47 665.60 456.52 662.77 462.56 659.97 C468.61 657.18 477.68 653.05 480.70 651.67 M281.20 749.49 C284.22 748.27 293.29 744.63 299.34 742.18 C305.38 739.74 311.43 737.27 317.47 734.80 C323.52 732.33 329.56 729.85 335.61 727.36 C341.65 724.88 347.70 722.38 353.75 719.89 C359.79 717.40 365.84 714.91 371.88 712.42 C377.93 709.93 383.97 707.44 390.02 704.96 C396.06 702.48 402.11 700.01 408.15 697.55 C414.20 695.09 420.25 692.64 426.29 690.21 C432.34 687.77 438.38 685.35 444.43 682.96 C450.47 680.56 456.52 678.18 462.56 675.83 C468.61 673.48 477.68 670.01 480.70 668.84 M281.20 750.44 C284.22 749.51 293.29 746.72 299.34 744.82 C305.38 742.92 311.43 740.98 317.47 739.04 C323.52 737.10 329.56 735.13 335.61 733.15 C341.65 731.18 347.70 729.19 353.75 727.20 C359.79 725.21 365.84 723.21 371.88 721.21 C377.93 719.22 383.97 717.22 390.02 715.23 C396.06 713.25 402.11 711.27 408.15 709.30 C414.20 707.34 420.25 705.39 426.29 703.46 C432.34 701.53 438.38 699.62 444.43 697.74 C450.47 695.86 456.52 694.00 462.56 692.18 C468.61 690.36 477.68 687.72 480.70 686.83 M281.20 751.44 C284.22 750.73 293.29 748.60 299.34 747.18 C305.38 745.76 311.43 744.34 317.47 742.92 C323.52 741.50 329.56 740.07 335.61 738.65 C341.65 737.23 347.70 735.81 353.75 734.38 C359.79 732.96 365.84 731.54 371.88 730.12 C377.93 728.69 383.97 727.27 390.02 725.86 C396.06 724.44 402.11 723.02 408.15 721.60 C414.20 720.19 420.25 718.77 426.29 717.36 C432.34 715.95 438.38 714.54 444.43 713.13 C450.47 711.73 456.52 710.32 462.56 708.92 C468.61 707.52 477.68 705.43 480.70 704.74 M281.20 752.42 C284.22 751.93 293.29 750.45 299.34 749.52 C305.38 748.58 311.43 747.69 317.47 746.80 C323.52 745.92 329.56 745.07 335.61 744.22 C341.65 743.37 347.70 742.55 353.75 741.71 C359.79 740.88 365.84 740.05 371.88 739.21 C377.93 738.37 383.97 737.54 390.02 736.67 C396.06 735.81 402.11 734.94 408.15 734.03 C414.20 733.12 420.25 732.19 426.29 731.22 C432.34 730.25 438.38 729.25 444.43 728.20 C450.47 727.14 456.52 726.05 462.56 724.90 C468.61 723.74 477.68 721.86 480.70 721.26 " stroke="#000" stroke-width="1.25" fill="none"/>
<path d="M480.70 617.18 L497.20 612.00 M480.70 634.71 L497.20 627.75 M480.70 651.67 L497.20 646.10 M480.70 668.84 L497.20 664.20 M480.70 686.83 L497.20 684.10 M480.70 704.74 L497.20 701.80 M480.70 721.26 L497.20 719.50 " stroke="#000" stroke-width="1.25" fill="none" stroke-dasharray="4.4 2.6" stroke-dashoffset="3.0"/>
<path d="M264.60 756.20 L281.20 746.60 M264.60 756.20 L281.20 747.56 M264.60 756.20 L281.20 748.53 M264.60 756.20 L281.20 749.49 M264.60 756.20 L281.20 750.44 M264.60 756.20 L281.20 751.44 M264.60 756.20 L281.20 752.42 " stroke="#000" stroke-width="1.875" fill="none" stroke-dasharray="0.00 4.64 2.40 2.56 2.40 2.56 2.72 80.00"/>
</g>
<path d="M335.4 558v2.2M373.6 559.3l1-1.6" stroke="#333" stroke-width="0.8"/>
<g font-family="'DejaVu Sans', sans-serif" font-weight="bold" stroke-width="1.6" stroke-linejoin="round">
<text transform="translate(517.81 792.20) scale(0.9892 1)" font-size="36.00" fill="#f5a1b3" stroke="#f5a1b3">p</text>
<text transform="translate(545.38 792.20) scale(1.1317 1)" font-size="36.00" fill="#f5a1b3" stroke="#f5a1b3">n</text>
<text transform="translate(576.16 792.20) scale(1.0602 1)" font-size="36.00" fill="#f5a1b3" stroke="#f5a1b3">e</text>
<text transform="translate(604.67 792.20) scale(1.1115 1)" font-size="36.00" fill="#f5a1b3" stroke="#f5a1b3">u</text>
<text transform="translate(633.46 792.20) scale(1.1176 1)" font-size="36.00" fill="#f5a1b3" stroke="#f5a1b3">m</text>
<text transform="translate(676.06 792.20) scale(1.1248 1)" font-size="36.00" fill="#f5a1b3" stroke="#f5a1b3">a</text>
<text transform="translate(704.42 792.20) scale(0.9851 1)" font-size="27.80" fill="#f5a1b3" stroke="#f5a1b3">T</text>
<text transform="translate(724.77 792.20) scale(1.4829 1)" font-size="27.80" fill="#f5a1b3" stroke="#f5a1b3">I</text>
<text transform="translate(741.01 792.20) scale(1.1591 1)" font-size="36.00" fill="#9b9b9b" stroke="#9b9b9b">c</text>
<text transform="translate(768.75 792.20) scale(0.9359 1)" font-size="36.00" fill="#9b9b9b" stroke="#9b9b9b">o</text>
<rect x="762.5" y="781.8" width="12.5" height="2.7" fill="#9b9b9b"/>
</g>
<circle cx="796.6" cy="774.7" r="2.9" fill="none" stroke="#8a8a8a" stroke-width="0.7"/>
<text x="796.6" y="776.2" font-size="4.2" fill="#8a8a8a" text-anchor="middle" font-weight="bold">R</text>
</svg></body></html>
